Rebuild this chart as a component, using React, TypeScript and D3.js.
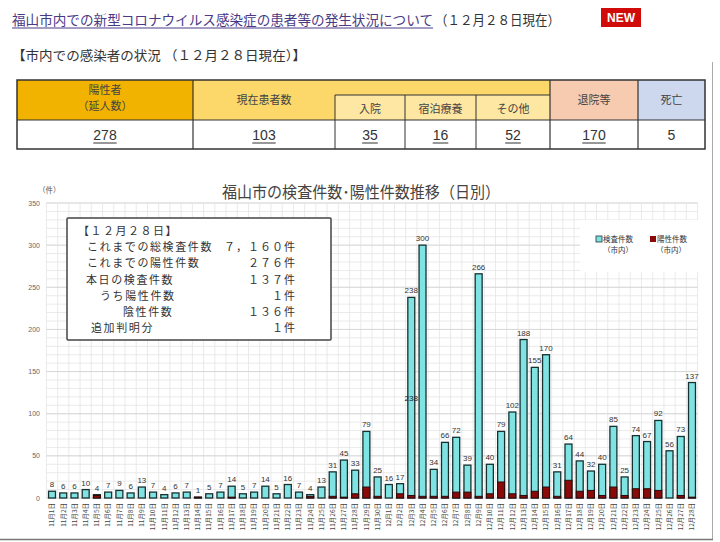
import React from 'react';
import * as d3 from 'd3';

const dates = [
  '11月1日','11月2日','11月3日','11月4日','11月5日','11月6日','11月7日','11月8日','11月9日','11月10日',
  '11月11日','11月12日','11月13日','11月14日','11月15日','11月16日','11月17日','11月18日','11月19日','11月20日',
  '11月21日','11月22日','11月23日','11月24日','11月25日','11月26日','11月27日','11月28日','11月29日','11月30日',
  '12月1日','12月2日','12月3日','12月4日','12月5日','12月6日','12月7日','12月8日','12月9日','12月10日',
  '12月11日','12月12日','12月13日','12月14日','12月15日','12月16日','12月17日','12月18日','12月19日','12月20日',
  '12月21日','12月22日','12月23日','12月24日','12月25日','12月26日','12月27日','12月28日'
];

const tests = [8,6,6,10,4,7,9,6,13,7,4,6,7,1,5,7,14,5,7,14,5,16,7,4,13,31,45,33,79,25,16,17,238,300,34,66,72,39,266,40,79,102,188,155,170,31,64,44,32,40,85,25,74,67,92,56,73,137];
const positives = [0,0,0,0,3,0,0,0,0,0,0,0,0,1,0,0,1,0,0,0,0,0,0,2,0,2,1,5,13,2,0,5,3,2,2,2,7,7,2,5,19,5,3,8,13,2,21,8,9,3,13,3,11,11,9,0,3,1];
const innerLabelIdx = [32];

const yTicks = [0, 50, 100, 150, 200, 250, 300, 350];

const tableHeaders = ['陽性者', '（延人数）', '現在患者数', '入院', '宿泊療養', 'その他', '退院等', '死亡'];
const tableValues = ['278', '103', '35', '16', '52', '170', '5'];

const boxLines = [
  ['【１２月２８日】', ''],
  ['これまでの総検査件数', '７，１６０件'],
  ['これまでの陽性件数', '２７６件'],
  ['本日の検査件数', '１３７件'],
  ['うち陽性件数', '１件'],
  ['陰性件数', '１３６件'],
  ['追加判明分', '１件'],
];

const JP = '"Noto Sans CJK JP", "Noto Sans", sans-serif';
const LAT = '"Liberation Sans", Arial, sans-serif';

export default function App() {
  const x = d3.scaleBand<string>().domain(dates).range([46.4, 697.6]).paddingInner(0.38).paddingOuter(0.19);
  const y = d3.scaleLinear().domain([0, 350]).range([498, 203]);
  const step = x.step();
  const x0 = 46.4, x1 = 697.6;
  const minor = d3.range(0, 351, 10);
  const vlines = d3.range(0, dates.length + 1).map(i => x0 + i * step);

  // table geometry
  const tL = 17, tR = 705, tT = 80, tSub = 95, tH = 120, tB = 149;
  const c1 = 193, c2 = 335, c3 = 405, c4 = 476, c5 = 550, c6 = 638;
  const valCenters = [(tL + c1) / 2, (c1 + c2) / 2, (c2 + c3) / 2, (c3 + c4) / 2, (c4 + c5) / 2, (c5 + c6) / 2, (c6 + tR) / 2];

  const boxIndent = [78, 87, 87, 86, 100, 123, 91];

  return (
    <svg width={720} height={542} style={{ position: 'absolute', left: 0, top: 0, background: '#fff' }}>
      <rect x={0} y={0} width={720} height={542} fill="#fff" />
      {/* header */}
      <text x={12} y={25} fontFamily={JP} fontSize={13.5} fill="#4a3a86" textLength={421} lengthAdjust="spacingAndGlyphs">福山市内での新型コロナウイルス感染症の患者等の発生状況について</text>
      <line x1={12} y1={28} x2={433} y2={28} stroke="#4a3a86" strokeWidth={1} />
      <text x={435} y={25} fontFamily={JP} fontSize={13.5} fill="#333" textLength={125} lengthAdjust="spacingAndGlyphs">（１２月２８日現在）</text>
      <rect x={601} y={8} width={40} height={19} fill="#d10a0a" />
      <text x={621} y={22} textAnchor="middle" fontFamily={LAT} fontWeight="bold" fontSize={12} fill="#fff">NEW</text>

      <text x={12} y={60} fontFamily={JP} fontSize={13} fill="#333" textLength={294} lengthAdjust="spacingAndGlyphs">【市内での感染者の状況 （１２月２８日現在）】</text>

      {/* table */}
      <rect x={tL} y={tT} width={c1 - tL} height={tH - tT} fill="#f2b300" />
      <rect x={c1} y={tT} width={c5 - c1} height={tH - tT} fill="#fcd86a" />
      <rect x={c2} y={tSub} width={c5 - c2} height={tH - tSub} fill="#fde7a2" />
      <rect x={c5} y={tT} width={c6 - c5} height={tH - tT} fill="#f7cbb0" />
      <rect x={c6} y={tT} width={tR - c6} height={tH - tT} fill="#cdd8ee" />
      <rect x={tL} y={tH} width={tR - tL} height={tB - tH} fill="#fff" />
      <g stroke="#333" fill="none">
        <rect x={tL} y={tT} width={tR - tL} height={tB - tT} strokeWidth={1.5} />
        <line x1={tL} y1={tH} x2={tR} y2={tH} strokeWidth={1.2} />
        <line x1={c2} y1={tSub} x2={c5} y2={tSub} strokeWidth={1} />
        {[c1, c5, c6].map((cx, i) => <line key={i} x1={cx} y1={tT} x2={cx} y2={tB} strokeWidth={1.2} />)}
        {[c2, c3, c4].map((cx, i) => <line key={i} x1={cx} y1={tSub} x2={cx} y2={tB} strokeWidth={1} />)}
      </g>
      <g fontFamily={JP} fontSize={11} fill="#444" textAnchor="middle">
        <text x={(tL + c1) / 2} y={94}>{tableHeaders[0]}</text>
        <text x={(tL + c1) / 2} y={110}>{tableHeaders[1]}</text>
        <text x={(c1 + c2) / 2} y={104}>{tableHeaders[2]}</text>
        <text x={(c2 + c3) / 2} y={113}>{tableHeaders[3]}</text>
        <text x={(c3 + c4) / 2} y={113}>{tableHeaders[4]}</text>
        <text x={(c4 + c5) / 2} y={113}>{tableHeaders[5]}</text>
        <text x={(c5 + c6) / 2} y={104}>{tableHeaders[6]}</text>
        <text x={(c6 + tR) / 2} y={104}>{tableHeaders[7]}</text>
      </g>
      <g fontFamily={LAT} fontSize={14} fill="#333" textAnchor="middle">
        {tableValues.map((v, i) => {
          const w = v.length * 7.8;
          return (
            <g key={i}>
              <text x={valCenters[i]} y={140}>{v}</text>
              {i < 6 && <line x1={valCenters[i] - w / 2} y1={143} x2={valCenters[i] + w / 2} y2={143} stroke="#333" strokeWidth={1} />}
            </g>
          );
        })}
      </g>

      {/* chart border */}
      <line x1={712.5} y1={62} x2={712.5} y2={540} stroke="#aaa" strokeWidth={1} />
      <line x1={0} y1={539.5} x2={713} y2={539.5} stroke="#777" strokeWidth={1.5} />

      {/* chart title */}
      <text x={361} y={198} textAnchor="middle" fontFamily={JP} fontSize={16} fill="#444" textLength={278} lengthAdjust="spacingAndGlyphs">福山市の検査件数･陽性件数推移（日別）</text>
      <text x={38} y={193} fontFamily={JP} fontSize={7.5} fill="#555">（件）</text>

      {/* grid */}
      <g stroke="#e4e4e4" strokeWidth={0.8}>
        {minor.map(v => <line key={'h' + v} x1={x0} x2={x1} y1={y(v)} y2={y(v)} />)}
        {vlines.map((vx, i) => <line key={'v' + i} x1={vx} x2={vx} y1={y(350)} y2={y(0)} />)}
      </g>
      <g stroke="#d2d2d2" strokeWidth={0.8}>
        {yTicks.map(v => <line key={'m' + v} x1={x0} x2={x1} y1={y(v)} y2={y(v)} />)}
      </g>
      {/* y ticks */}
      <g fontFamily={LAT} fontSize={7} fill="#666" textAnchor="end">
        {yTicks.map(v => <text key={v} x={40} y={y(v) + 2.5}>{v}</text>)}
      </g>

      {/* legend background */}
      <rect x={580} y={220} width={120} height={52} fill="#fff" />
      <rect x={596} y={236} width={6} height={6} fill="#7fe3e3" stroke="#1d3434" strokeWidth={0.8} />
      <text x={603} y={242} fontFamily={JP} fontSize={7.5} fill="#333">検査件数</text>
      <text x={603} y={253} fontFamily={JP} fontSize={7.5} fill="#333">（市内）</text>
      <rect x={650} y={236} width={6} height={6} fill="#8a0a0a" />
      <text x={657} y={242} fontFamily={JP} fontSize={7.5} fill="#333">陽性件数</text>
      <text x={656} y={253} fontFamily={JP} fontSize={7.5} fill="#333">（市内）</text>

      {/* bars */}
      <g>
        {dates.map((d, i) => (
          <rect key={'t' + i} x={x(d)} y={y(tests[i])} width={x.bandwidth()} height={y(0) - y(tests[i])}
            fill="#7fe3e3" stroke="#173030" strokeWidth={1.3} />
        ))}
        {dates.map((d, i) => positives[i] > 0 && (
          <rect key={'p' + i} x={x(d)} y={y(positives[i])} width={x.bandwidth()} height={y(0) - y(positives[i])}
            fill="#8a0a0a" stroke="#2a0a0a" strokeWidth={1} />
        ))}
      </g>
      {/* value labels */}
      <g fontFamily={LAT} fontSize={8} fill="#333" textAnchor="middle">
        {dates.map((d, i) => (
          <text key={'l' + i} x={(x(d) as number) + x.bandwidth() / 2} y={y(tests[i]) - 4}>{tests[i]}</text>
        ))}
        {innerLabelIdx.map(i => (
          <text key={'in' + i} x={(x(dates[i]) as number) + x.bandwidth() / 2} y={y(tests[i] / 2) + 3} fill="#222">{tests[i]}</text>
        ))}
      </g>
      {/* x labels */}
      <g fontFamily={JP} fontSize={6.5} fill="#444" textAnchor="end">
        {dates.map((d, i) => {
          const cx = (x(d) as number) + x.bandwidth() / 2;
          return <text key={'x' + i} x={cx} y={503} dy="0.35em" transform={`rotate(-90, ${cx}, 503)`}>{d}</text>;
        })}
      </g>

      {/* annotation box */}
      <rect x={67} y={218} width={264} height={122} fill="#fff" stroke="#444" strokeWidth={1.5} rx={1} />
      <g fontFamily={JP} fontSize={11} fill="#333">
        {boxLines.map((ln, i) => (
          <g key={i}>
            <text x={boxIndent[i]} y={235 + i * 16.2} letterSpacing={i === 0 ? 1.5 : 1.6}>{ln[0]}</text>
            {ln[1] && <text x={296} y={235 + i * 16.2} textAnchor="end" letterSpacing={1}>{ln[1]}</text>}
          </g>
        ))}
      </g>
    </svg>
  );
}
